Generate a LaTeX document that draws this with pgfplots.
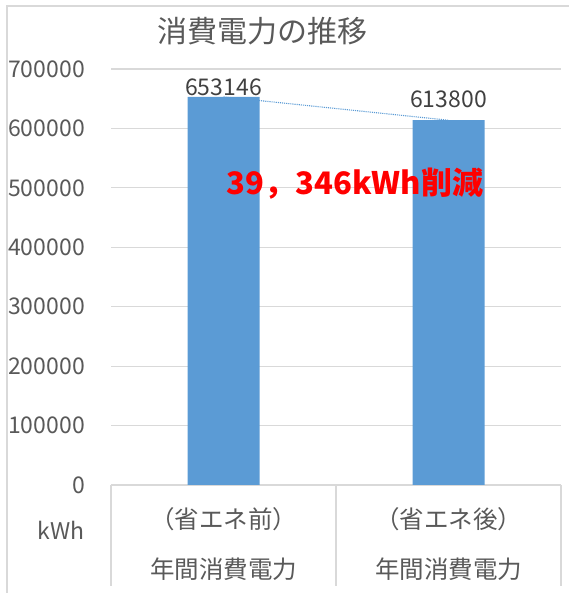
\documentclass[border=0pt]{standalone}
\usepackage{pgfplots}
\usepackage{pgfplotstable}
\pgfplotsset{compat=1.18}
\usepackage{fontspec}
\setmainfont{Noto Sans CJK JP}
\definecolor{barblue}{HTML}{5B9BD5}
\definecolor{txtgray}{HTML}{595959}
\definecolor{lbl}{HTML}{404040}
\definecolor{gridgray}{HTML}{D9D9D9}
\pgfplotstableread{
x y off
0 653146 1
1 613800 12
}\datatab
\begin{document}
\begin{tikzpicture}[x=1pt,y=1pt]
\useasboundingbox (0,0) rectangle (568,593);
\draw[gridgray, line width=1.2pt] (7,-5) -- (7,587) -- (580,587);
\begin{axis}[
  at={(111pt,108pt)}, anchor=south west,
  scale only axis, width=450pt, height=416pt,
  xmin=-0.5, xmax=1.5, ymin=0, ymax=700000,
  enlargelimits=false,
  axis line style={draw=none},
  major tick length=0pt,
  ytick={0,100000,200000,300000,400000,500000,600000,700000},
  scaled y ticks=false,
  ymajorgrids,
  grid style={gridgray, line width=1.2pt},
  yticklabel style={font=\fontsize{23}{25}\selectfont, text=txtgray, inner sep=0pt, anchor=east, xshift=-26pt,
    /pgf/number format/.cd, fixed, 1000 sep={}, assume math mode=true},
  xtick={0,1},
  xticklabels={{（省エネ前）\\年間消費電力},{（省エネ後）\\年間消費電力}},
  xticklabel style={align=center, font=\fontsize{24.5}{50}\selectfont, text=txtgray, anchor=center, yshift=-59pt},
  clip=false,
]
\addplot[ybar, bar width=72pt, fill=barblue, draw=none,
  point meta=y,
  visualization depends on={\thisrow{off}\as\myoff},
  nodes near coords={\pgfmathprintnumber[fixed,precision=0,1000 sep={},assume math mode=true]{\pgfplotspointmeta}},
  every node near coord/.append style={anchor=south, inner sep=0pt, yshift=\myoff pt, text=lbl, font=\fontsize{23}{25}\selectfont}
] table[x=x, y=y] {\datatab};
\addplot[barblue, densely dotted, line width=1.1pt, forget plot] table[x=x, y=y] {\datatab};
\end{axis}
\foreach \xx in {111,336,561} {\draw[gridgray, line width=1.2pt] (\xx,108) -- (\xx,7);}
\node[text=txtgray, font=\fontsize{30}{32}\selectfont] at (262,562) {消費電力の推移};
\node[anchor=east, text=txtgray, font=\fontsize{23}{25}\selectfont, inner sep=0pt] at (85,63) {kWh};
\node[text=red, font=\fontsize{31}{33}\selectfont\bfseries, inner sep=0pt] at (355,409) {39，346kWh削減};
\end{tikzpicture}
\end{document}
